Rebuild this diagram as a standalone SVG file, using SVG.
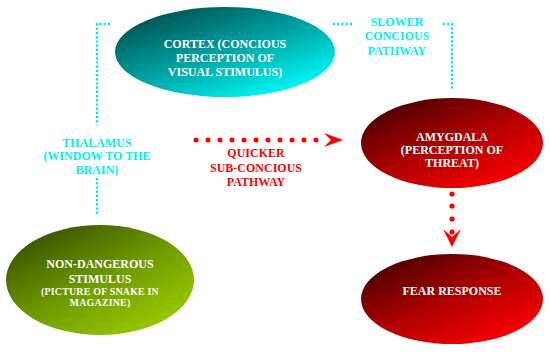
<svg xmlns="http://www.w3.org/2000/svg" width="550" height="356" viewBox="0 0 550 356" font-family="'Liberation Serif', 'Times New Roman', Times, serif">
<defs>
<linearGradient id="gTeal" x1="0.15" y1="0.1" x2="0.85" y2="0.95">
<stop offset="0" stop-color="#005454"/>
<stop offset="0.5" stop-color="#00a6a6"/>
<stop offset="1" stop-color="#00ffff"/>
</linearGradient>
<linearGradient id="gRed" x1="0.1" y1="0.1" x2="0.85" y2="0.95">
<stop offset="0" stop-color="#4a0000"/>
<stop offset="0.5" stop-color="#b00000"/>
<stop offset="1" stop-color="#ff0000"/>
</linearGradient>
<linearGradient id="gGreen" x1="0.1" y1="0.1" x2="0.85" y2="0.95">
<stop offset="0" stop-color="#3a5200"/>
<stop offset="0.5" stop-color="#6e9a00"/>
<stop offset="1" stop-color="#9ccc00"/>
</linearGradient>
<style>
text{font-family:'Liberation Serif','Times New Roman',Times,serif;font-weight:bold;font-size:12px;text-anchor:middle}
.nt{fill:#ffffff}
.st{font-size:10px;letter-spacing:0.15px}
.ct{fill:#00eef5}
.rt{fill:#ff0000}
.cy{fill:none;stroke:#00e5f2;stroke-width:2.4;stroke-dasharray:2.2 2}
.rd{fill:#ff0000}
</style>
</defs>
<g id="connectors">
<path class="cy" d="M110 24 H97 V125"/>
<path class="cy" d="M97 178 V216"/>
<path class="cy" d="M333 24 H352"/>
<path class="cy" d="M443 24 H452 V89"/>
<g id="quick-arrow" class="rd">
<circle cx="196" cy="140" r="2.5"/><circle cx="208" cy="140" r="2.5"/><circle cx="220" cy="140" r="2.5"/><circle cx="232" cy="140" r="2.5"/><circle cx="244" cy="140" r="2.5"/><circle cx="256" cy="140" r="2.5"/><circle cx="268" cy="140" r="2.5"/><circle cx="280" cy="140" r="2.5"/><circle cx="292" cy="140" r="2.5"/><circle cx="304" cy="140" r="2.5"/><circle cx="316" cy="140" r="2.5"/>
<polygon points="324,133 343,140 324,147 331,140"/>
</g>
<g id="fear-arrow" class="rd">
<circle cx="452" cy="194" r="2.6"/><circle cx="452" cy="206" r="2.6"/><circle cx="452" cy="219" r="2.6"/><circle cx="452" cy="232" r="2.6"/>
<polygon points="443,229 452,237 461,229 452,247"/>
</g>
</g>
<g id="cortex">
<ellipse cx="225" cy="52" rx="110" ry="45" fill="url(#gTeal)"/>
<text class="nt" x="225" y="48">CORTEX (CONCIOUS</text>
<text class="nt" x="225" y="62">PERCEPTION OF</text>
<text class="nt" x="225" y="76">VISUAL STIMULUS)</text>
</g>
<g id="amygdala">
<ellipse cx="452" cy="143" rx="91" ry="45" fill="url(#gRed)"/>
<text class="nt" x="452" y="141">AMYGDALA</text>
<text class="nt" x="452" y="154">(PERCEPTION OF</text>
<text class="nt" x="452" y="167">THREAT)</text>
</g>
<g id="fear-response">
<ellipse cx="452" cy="299" rx="91" ry="45" fill="url(#gRed)"/>
<text class="nt" x="452" y="295">FEAR RESPONSE</text>
</g>
<g id="stimulus">
<ellipse cx="100" cy="280" rx="94" ry="55" fill="url(#gGreen)"/>
<text class="nt" x="100" y="268">NON-DANGEROUS</text>
<text class="nt" x="100" y="283">STIMULUS</text>
<text class="nt st" x="100" y="295">(PICTURE OF SNAKE IN</text>
<text class="nt st" x="100" y="306">MAGAZINE)</text>
</g>
<g id="labels">
<text class="ct" x="97" y="147">THALAMUS</text>
<text class="ct" x="97" y="160">(WINDOW TO THE</text>
<text class="ct" x="97" y="174">BRAIN)</text>
<text class="ct" x="397" y="26">SLOWER</text>
<text class="ct" x="397" y="40">CONCIOUS</text>
<text class="ct" x="397" y="55">PATHWAY</text>
<text class="rt" x="256" y="157">QUICKER</text>
<text class="rt" x="256" y="172">SUB-CONCIOUS</text>
<text class="rt" x="256" y="186">PATHWAY</text>
</g>
</svg>
